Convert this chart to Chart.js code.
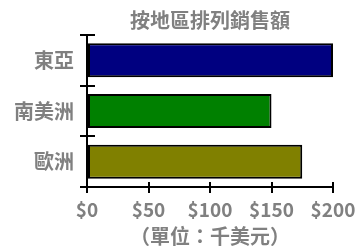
<!DOCTYPE html>
<html><head><meta charset="utf-8">
<script src="https://cdn.jsdelivr.net/npm/chart.js@4/dist/chart.umd.min.js"></script>
<style>html,body{margin:0;padding:0;background:#fff;}#w{width:357px;height:248px;}</style>
</head><body><div id="w"><canvas id="c" width="357" height="248"></canvas></div>
<script>
const categories = ["東亞", "南美洲", "歐洲"];
const salesValues = [200, 150, 175];
const barColors = ["#000080", "#008000", "#808000"];
const xTickValues = [0, 50, 100, 150, 200];
const chartTitle = "按地區排列銷售額";
const xAxisTitle = "（單位：千美元）";

const FONT = "'Noto Sans CJK TC', 'DejaVu Sans', sans-serif";
const GRAY = "#808080";

const crossTicks = {
  id: 'crossTicks',
  afterDraw(chart) {
    const ctx = chart.ctx, a = chart.chartArea;
    const xs = chart.scales.x, ys = chart.scales.y;
    ctx.save();
    ctx.strokeStyle = '#000';
    ctx.lineWidth = 2;
    xTickValues.forEach(v => {
      const px = Math.round(xs.getPixelForValue(v));
      ctx.beginPath(); ctx.moveTo(px, a.bottom - 5); ctx.lineTo(px, a.bottom); ctx.stroke();
    });
    for (let i = 0; i < categories.length; i++) {
      const py = Math.round(ys.getPixelForValue(i - 0.5));
      ctx.beginPath(); ctx.moveTo(a.left, py); ctx.lineTo(a.left + 8, py); ctx.stroke();
    }
    ctx.restore();
  }
};

new Chart(document.getElementById('c'), {
  type: 'bar',
  data: {
    labels: categories,
    datasets: [{
      data: salesValues,
      backgroundColor: barColors,
      borderColor: '#000',
      borderWidth: 2,
      borderSkipped: false,
      categoryPercentage: 0.67,
      barPercentage: 1.0
    }]
  },
  options: {
    indexAxis: 'y',
    responsive: false,
    animation: false,
    devicePixelRatio: 1,
    layout: { padding: { left: 0, right: 0, top: 0, bottom: 0 } },
    plugins: {
      legend: { display: false },
      tooltip: { enabled: false },
      title: {
        display: true,
        text: chartTitle,
        fullSize: false,
        color: GRAY,
        font: { family: FONT, size: 20, weight: 'bold', lineHeight: 1.2 },
        padding: { top: 8, bottom: 3 }
      }
    },
    scales: {
      x: {
        min: 0, max: 200,
        afterBuildTicks(s) { s.ticks = xTickValues.map(v => ({ value: v })); },
        afterFit(s) { s.height = 61; s.paddingRight = 24; s.paddingLeft = 0; },
        border: { display: true, color: '#000', width: 2 },
        grid: { display: true, drawOnChartArea: false, drawTicks: true, tickLength: 6, color: '#000', lineWidth: 2 },
        ticks: {
          color: GRAY, padding: 6,
          font: { family: FONT, size: 19, weight: 'bold', lineHeight: 1.1 },
          maxRotation: 0,
          callback: v => '$' + v
        },
        title: {
          display: true, text: xAxisTitle, color: GRAY,
          font: { family: FONT, size: 20, weight: 'bold', lineHeight: 1.2 },
          padding: { top: 0, bottom: 0 }
        }
      },
      y: {
        afterFit(s) { s.width = 87; },
        border: { display: true, color: '#000', width: 2 },
        grid: { display: true, offset: true, drawOnChartArea: false, drawTicks: true, tickLength: 7, color: '#000', lineWidth: 2 },
        ticks: {
          color: GRAY, padding: 6,
          font: { family: FONT, size: 20, weight: 'bold' }
        }
      }
    }
  },
  plugins: [crossTicks]
});
</script>
</body></html>
